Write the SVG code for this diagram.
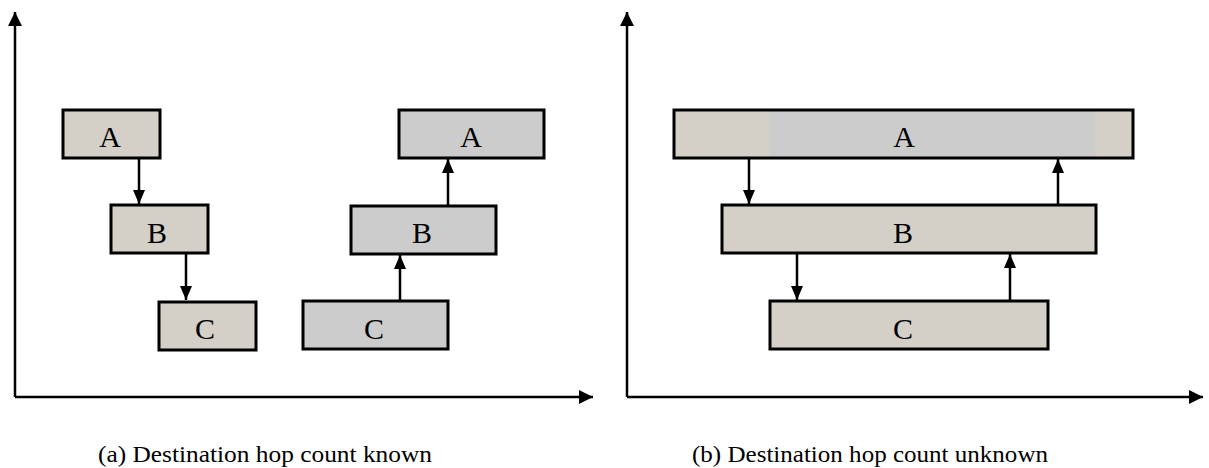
<svg xmlns="http://www.w3.org/2000/svg" width="1209" height="468" viewBox="0 0 1209 468">
  <defs>
    <marker id="axhead" markerUnits="userSpaceOnUse" markerWidth="15" markerHeight="15" refX="14" refY="7" orient="auto">
      <path d="M0,0 L14,7 L0,14 z" fill="#000"/>
    </marker>
    <marker id="head" markerUnits="userSpaceOnUse" markerWidth="15" markerHeight="13" refX="14" refY="6" orient="auto">
      <path d="M0,0 L14,6 L0,12 z" fill="#000"/>
    </marker>
  </defs>
  <style>
    .tan { fill: #d4d0c8; }
    .gray { fill: #cccccc; }
    .box { stroke: #000; stroke-width: 3; }
    .outline { fill: none; stroke: #000; stroke-width: 3; }
    .lbl { font-family: "Liberation Serif", "Times New Roman", serif; font-size: 30px; fill: #000; text-anchor: middle; }
    .cap { font-family: "Liberation Serif", "Times New Roman", serif; font-size: 23px; fill: #000; }
    .axis { stroke: #000; stroke-width: 2.5; fill: none; marker-end: url(#axhead); }
    .edge { stroke: #000; stroke-width: 2.5; fill: none; marker-end: url(#head); }
  </style>
  <rect width="1209" height="468" fill="#fff"/>

  <g id="axes">
    <path class="axis" d="M15,397 L15,12"/>
    <path class="axis" d="M15,397 L593,397"/>
    <path class="axis" d="M627,397 L627,12"/>
    <path class="axis" d="M627,397 L1203,397"/>
  </g>

  <!-- Panel (a) left chain -->
  <g id="a1-A"><rect class="tan box" x="63" y="110" width="97" height="48"/><text class="lbl" x="110" y="147">A</text></g>
  <g id="a1-B"><rect class="tan box" x="111" y="205" width="97" height="48"/><text class="lbl" x="157" y="243">B</text></g>
  <g id="a1-C"><rect class="tan box" x="159" y="302" width="97" height="48"/><text class="lbl" x="205" y="339">C</text></g>

  <!-- Panel (a) right chain -->
  <g id="a2-A"><rect class="gray box" x="399" y="110" width="145" height="48"/><text class="lbl" x="471" y="147">A</text></g>
  <g id="a2-B"><rect class="gray box" x="351" y="206" width="145" height="48"/><text class="lbl" x="422" y="243">B</text></g>
  <g id="a2-C"><rect class="gray box" x="303" y="301" width="145" height="48"/><text class="lbl" x="374" y="339">C</text></g>

  <!-- Panel (b) -->
  <g id="b-A">
    <rect class="tan" x="674" y="110" width="459" height="48"/>
    <rect class="gray" x="770" y="110" width="325" height="48"/>
    <rect class="outline" x="674" y="110" width="459" height="48"/>
    <text class="lbl" x="904" y="147">A</text>
  </g>
  <g id="b-B"><rect class="tan box" x="722" y="205" width="374" height="48"/><text class="lbl" x="903" y="243">B</text></g>
  <g id="b-C"><rect class="tan box" x="770" y="301" width="278" height="48"/><text class="lbl" x="903" y="339">C</text></g>

  <g id="connectors">
    <path class="edge" d="M139,158 L139,204"/>
    <path class="edge" d="M186,253 L186,300"/>
    <path class="edge" d="M400,301 L400,255"/>
    <path class="edge" d="M448,206 L448,159"/>
    <path class="edge" d="M749,158 L749,204"/>
    <path class="edge" d="M797,253 L797,300"/>
    <path class="edge" d="M1010,301 L1010,254"/>
    <path class="edge" d="M1058,205 L1058,159"/>
  </g>

  <g id="captions">
    <text class="cap" x="98" y="462" textLength="334" lengthAdjust="spacingAndGlyphs">(a) Destination hop count known</text>
    <text class="cap" x="692" y="462" textLength="356" lengthAdjust="spacingAndGlyphs">(b) Destination hop count unknown</text>
  </g>
</svg>
